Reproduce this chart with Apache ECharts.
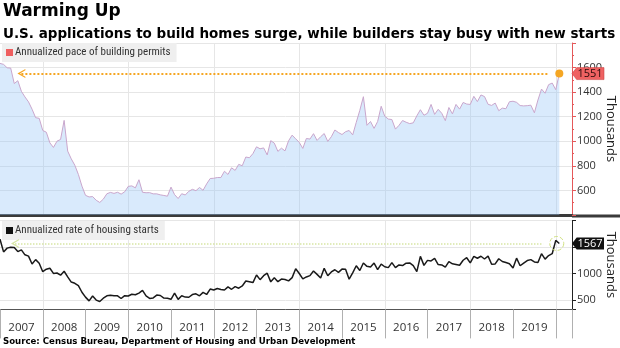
<!DOCTYPE html>
<html><head><meta charset="utf-8">
<script src="https://cdn.jsdelivr.net/npm/echarts@6/dist/echarts.min.js"></script>
<style>html,body{margin:0;padding:0;background:#fff}#c{width:620px;height:348px}</style>
</head><body><div id="c"></div>
<script>
// Monthly data, Dec 2006 .. Jan 2020 (thousands, SAAR)
const firstMonthEnd = 2007.0; // end of Dec 2006
const permits = [
 1634,
 1626,1598,1596,1470,1493,1407,1361,1321,1261,1192,1187,1088,
 1074,987,950,1001,1015,1170,920,857,805,730,635,560,
 547,550,520,502,529,573,584,576,585,570,589,633,
 637,621,687,585,581,582,572,572,564,559,553,627,
 566,534,573,563,593,609,598,624,601,653,697,699,
 705,705,756,730,784,763,812,801,872,866,900,955,
 939,946,889,1005,985,918,944,922,1004,1050,1020,991,
 942,1023,1018,1062,1007,1037,1063,999,1037,1092,1071,1055,
 1078,1088,1052,1154,1252,1363,1130,1161,1105,1161,1285,1204,
 1181,1177,1099,1130,1169,1155,1144,1150,1207,1257,1212,1228,
 1300,1219,1260,1228,1168,1275,1223,1300,1262,1316,1303,1300,
 1366,1323,1377,1364,1301,1292,1311,1249,1270,1265,1322,1326,
 1317,1291,1288,1290,1294,1232,1336,1425,1391,1461,1474,1420,
 1551
];
const starts = [
 1649,
 1409,1480,1495,1490,1415,1448,1354,1330,1183,1264,1197,1037,
 1084,1103,1005,1013,973,1046,940,843,820,777,652,560,
 490,582,505,478,540,585,594,586,585,534,588,581,
 614,604,636,687,583,536,546,599,591,543,539,520,
 636,518,585,561,558,608,623,585,650,610,711,694,
 723,704,695,753,708,757,728,770,862,849,833,976,
 888,962,1010,847,925,851,899,891,865,926,1093,1003,
 902,939,964,1052,987,918,1100,962,1032,1074,1024,1086,
 1083,897,1015,1149,1059,1200,1138,1125,1200,1077,1179,1130,
 1114,1208,1113,1165,1152,1197,1202,1150,1038,1326,1156,1250,
 1240,1286,1172,1164,1122,1225,1185,1172,1158,1252,1300,1203,
 1326,1290,1327,1276,1329,1177,1184,1280,1229,1209,1187,1108,
 1291,1149,1199,1247,1264,1220,1210,1375,1273,1340,1375,1626,
 1567
];
const yearLabels = ['2007','2008','2009','2010','2011','2012','2013','2014','2015','2016','2017','2018','2019'];
const permitsName = 'Annualized pace of building permits';
const startsName = 'Annualized rate of housing starts';
const titleText = 'Warming Up';
const subtitleText = 'U.S. applications to build homes surge, while builders stay busy with new starts';
const sourceText = 'Source: Census Bureau, Department of Housing and Urban Development';

const permitsPts = permits.map((v, i) => [firstMonthEnd + i / 12, v]);
const startsPts = starts.map((v, i) => [firstMonthEnd + i / 12, v]);
const lastP = permitsPts[permitsPts.length - 1];
const lastS = startsPts[startsPts.length - 1];

const X_MIN = 2006, X_MAX = 2020.38;
const GRID_LEFT = -42.75, GRID_RIGHT = 48;
const narrow = "'Liberation Sans Narrow','Roboto Condensed','Open Sans',sans-serif";
const numFont = "'Open Sans',sans-serif";
const chevron = 'path://M0,8 L5,0 L10,8 L8.6,8 L5,2.6 L1.4,8 Z';
const tagPath = 'path://M0,6 L5,0 L34,0 L34,12 L5,12 Z';

const chart = echarts.init(document.getElementById('c'));
chart.setOption({
  animation: false,
  backgroundColor: '#fff',
  title: [
    {text: titleText, left: 3, top: 3, padding: 0,
     textStyle: {fontFamily: 'DejaVu Sans', fontWeight: 'bold', fontSize: 17, color: '#000'}},
    {text: subtitleText, left: 3, top: 27, padding: 0,
     textStyle: {fontFamily: 'DejaVu Sans', fontWeight: 'bold', fontSize: 13.5, color: '#000'}},
    {text: sourceText, left: 3, top: 337, padding: 0,
     textStyle: {fontFamily: 'DejaVu Sans', fontWeight: 'bold', fontSize: 8.6, color: '#000'}}
  ],
  legend: [
    {data: [{name: permitsName, itemStyle: {color: '#ef5f5f'}}], left: 2, top: 43, selectedMode: false,
     backgroundColor: '#efefef', padding: [4, 6, 4, 4], itemWidth: 7, itemHeight: 7, icon: 'rect',
     textStyle: {fontFamily: narrow, fontSize: 11, color: '#333', padding: [0, 0, 0, -3]}},
    {data: [{name: startsName, itemStyle: {color: '#111'}}], left: 2, top: 221, selectedMode: false,
     backgroundColor: '#efefef', padding: [4, 6, 4, 4], itemWidth: 7, itemHeight: 7, icon: 'rect',
     textStyle: {fontFamily: narrow, fontSize: 11, color: '#333', padding: [0, 0, 0, -3]}}
  ],
  grid: [
    {left: GRID_LEFT, right: GRID_RIGHT, top: 43, height: 172, outerBoundsMode: 'none', containLabel: false},
    {left: GRID_LEFT, right: GRID_RIGHT, top: 220.4, height: 89, outerBoundsMode: 'none', containLabel: false}
  ],
  xAxis: [
    {gridIndex: 0, type: 'value', position: 'bottom', min: X_MIN, max: X_MAX, interval: 2,
     axisLine: {show: true, onZero: false, lineStyle: {color: '#3a3a3a', width: 3}},
     axisTick: {show: false}, axisLabel: {show: false},
     splitLine: {show: true, lineStyle: {color: '#e6e6e6'}}},
    {gridIndex: 1, type: 'value', position: 'top', min: X_MIN, max: X_MAX, interval: 2,
     axisLine: {show: false}, axisTick: {show: false}, axisLabel: {show: false},
     splitLine: {show: true, lineStyle: {color: '#e6e6e6'}}},
    {gridIndex: 1, type: 'value', position: 'bottom', min: X_MIN, max: X_MAX, interval: 1,
     axisLine: {show: true, onZero: false, lineStyle: {color: '#555', width: 1}},
     axisTick: {show: true, length: 29, lineStyle: {color: '#b0b0b0'}},
     axisLabel: {show: true, margin: 12, fontFamily: numFont, fontSize: 11.5, color: '#333',
       padding: [0, 0, 0, 43],
       formatter: v => { const s = String(Math.round(v)); return (Math.abs(v - Math.round(v)) < 1e-6 && yearLabels.includes(s)) ? s : ''; }},
     splitLine: {show: false}}
  ],
  yAxis: [
    {gridIndex: 0, type: 'value', position: 'right', min: 400, max: 1800, interval: 200,
     axisLine: {show: true, lineStyle: {color: '#e4585a'}},
     axisTick: {show: true, length: 4, lineStyle: {color: '#e4585a'}},
     minorTick: {show: true, splitNumber: 2, length: 2, lineStyle: {color: '#e4585a'}},
     axisLabel: {fontFamily: numFont, fontSize: 11, color: '#333', margin: 5,
       formatter: v => (v >= 600 && v <= 1600) ? String(v) : ''},
     splitLine: {show: true, lineStyle: {color: '#e6e6e6'}},
     name: 'Thousands', nameLocation: 'middle', nameRotate: -90, nameGap: 32, nameMoveOverlap: false,
     nameTextStyle: {fontFamily: numFont, fontSize: 13, color: '#222'}},
    {gridIndex: 1, type: 'value', position: 'right', min: 330, max: 2000, splitNumber: 4,
     axisLine: {show: true, lineStyle: {color: '#222'}},
     axisTick: {show: true, length: 4, lineStyle: {color: '#222'}},
     axisLabel: {fontFamily: numFont, fontSize: 11, color: '#333', margin: 5,
       formatter: v => (v === 500 || v === 1000) ? String(v) : ''},
     splitLine: {show: true, lineStyle: {color: '#e6e6e6'}},
     name: 'Thousands', nameLocation: 'middle', nameRotate: -90, nameGap: 32, nameMoveOverlap: false,
     nameTextStyle: {fontFamily: numFont, fontSize: 13, color: '#222'}}
  ],
  series: [
    {name: permitsName, type: 'line', xAxisIndex: 0, yAxisIndex: 0, data: permitsPts,
     symbol: 'none', itemStyle: {color: '#ef5f5f'},
     lineStyle: {color: '#c9a6cc', width: 1},
     areaStyle: {color: 'rgba(150,198,248,0.52)', origin: 'start'},
     markLine: {silent: true, symbol: [chevron, 'none'], symbolSize: [9, 8],
       lineStyle: {type: 'dotted', color: '#f5a623', width: 2}, label: {show: false},
       data: [[{coord: [2007.5, lastP[1]]}, {coord: [lastP[0] - 0.27, lastP[1]]}]]},
     markPoint: {silent: true, data: [
       {coord: lastP, symbol: 'circle', symbolSize: 8, itemStyle: {color: '#f5a623'}, label: {show: false}},
       {coord: [X_MAX, lastP[1]], symbol: tagPath, symbolSize: [32, 12], symbolOffset: [16, 0],
        itemStyle: {color: '#ef6262', borderColor: '#c84040', borderWidth: 0.5},
        label: {show: true, formatter: String(lastP[1]), color: '#2a0a0a', fontFamily: numFont, fontSize: 11,
          position: 'inside', offset: [2, 0]}}
     ]}},
    {name: startsName, type: 'line', xAxisIndex: 2, yAxisIndex: 1, data: startsPts,
     symbol: 'none', itemStyle: {color: '#111'},
     lineStyle: {color: '#1a1a1a', width: 1.5},
     markLine: {silent: true, symbol: [chevron, 'none'], symbolSize: [9, 8],
       lineStyle: {type: 'dotted', color: '#d7e6a4', width: 1.5}, label: {show: false},
       data: [[{coord: [2007.35, lastS[1]]}, {coord: [lastS[0] - 0.38, lastS[1]]}]]},
     markPoint: {silent: true, data: [
       {coord: [lastS[0] - 0.06, lastS[1]], symbol: 'circle', symbolSize: 14,
        itemStyle: {color: 'rgba(0,0,0,0)', borderColor: '#cfe07e', borderWidth: 1, borderType: 'dashed'}, label: {show: false}},
       {coord: [X_MAX, lastS[1]], symbol: tagPath, symbolSize: [32, 12], symbolOffset: [16, 0],
        itemStyle: {color: '#111'},
        label: {show: true, formatter: String(lastS[1]), color: '#fff', fontFamily: numFont, fontSize: 11,
          position: 'inside', offset: [2, 0]}}
     ]}}
  ],
  graphic: [
    {type: 'rect', left: 572, top: 214.5, shape: {width: 48, height: 3}, style: {fill: '#3a3a3a'}, silent: true}
  ]
});
</script></body></html>
